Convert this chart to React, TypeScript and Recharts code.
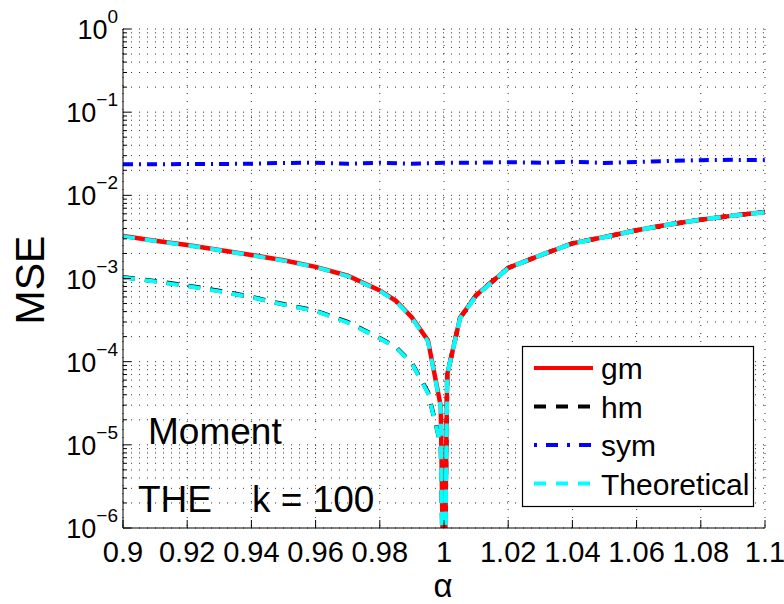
import { LineChart, Line, XAxis, YAxis, CartesianGrid, Legend } from "recharts";

const FONT = "'Liberation Sans', Arial, Helvetica, sans-serif";

// alpha grid shared by the gm / hm / theoretical curves
const alpha = [
  0.9, 0.91, 0.92, 0.93, 0.94, 0.95, 0.96, 0.97, 0.98, 0.985, 0.99, 0.995, 0.999, 1,
  1.001, 1.005, 1.01, 1.02, 1.03, 1.04, 1.05, 1.06, 1.07, 1.08, 1.09, 1.1,
];
const gmMse = [
  3.25e-3, 2.85e-3, 2.53e-3, 2.2e-3, 1.92e-3, 1.66e-3, 1.38e-3, 1.08e-3, 7.2e-4, 5.4e-4, 3.4e-4, 1.8e-4, 2.9e-5, 5e-8,
  7e-5, 3.35e-4, 6.3e-4, 1.34e-3, 1.9e-3, 2.65e-3, 3.15e-3, 3.8e-3, 4.45e-3, 5.1e-3, 5.7e-3, 6.3e-3,
];
const hmMse = [
  1.04e-3, 9.3e-4, 8.2e-4, 7.1e-4, 6.0e-4, 4.9e-4, 4.1e-4, 3.0e-4, 1.92e-4, 1.5e-4, 9.6e-5, 4.3e-5, 1.0e-5, 5e-8,
  7e-5, 3.35e-4, 6.3e-4, 1.34e-3, 1.9e-3, 2.65e-3, 3.15e-3, 3.8e-3, 4.45e-3, 5.1e-3, 5.7e-3, 6.3e-3,
];
const theoryGmMse = [
  3.2e-3, 2.83e-3, 2.5e-3, 2.19e-3, 1.9e-3, 1.64e-3, 1.37e-3, 1.07e-3, 7.1e-4, 5.3e-4, 3.35e-4, 1.75e-4, 2.8e-5, 1e-8,
  7e-5, 3.3e-4, 6.2e-4, 1.33e-3, 1.9e-3, 2.64e-3, 3.14e-3, 3.8e-3, 4.45e-3, 5.1e-3, 5.7e-3, 6.25e-3,
];
const theoryHmMse = [
  1.03e-3, 9.2e-4, 8.1e-4, 7.0e-4, 5.95e-4, 4.85e-4, 4.05e-4, 2.95e-4, 1.9e-4, 1.48e-4, 9.5e-5, 4.2e-5, 1.0e-5, 1e-8,
  7e-5, 3.3e-4, 6.2e-4, 1.33e-3, 1.9e-3, 2.64e-3, 3.14e-3, 3.8e-3, 4.45e-3, 5.1e-3, 5.7e-3, 6.25e-3,
];

const symAlpha = [
  0.9, 0.91, 0.92, 0.93, 0.94, 0.95, 0.96, 0.97, 0.98, 0.99, 1,
  1.01, 1.02, 1.03, 1.04, 1.05, 1.06, 1.07, 1.08, 1.09, 1.1,
];
const symMse = [
  0.0236, 0.0236, 0.0238, 0.0238, 0.024, 0.0245, 0.0247, 0.024, 0.0247, 0.024, 0.0247,
  0.0247, 0.025, 0.0247, 0.0254, 0.0245, 0.0252, 0.0259, 0.0265, 0.0267, 0.0265,
];

const xTicks = [0.9, 0.92, 0.94, 0.96, 0.98, 1, 1.02, 1.04, 1.06, 1.08, 1.1];
const yDecades = [-6, -5, -4, -3, -2, -1, 0];

const legendNames = ["gm", "hm", "sym", "Theoretical"];
const legendColors = ["#ff0000", "#000000", "#0000ff", "#00ffff"];
const legendDashes = [undefined, "12 10", "3 9 12 9", "12 10"];

const yTicks: number[] = [];
yDecades.forEach((e) => {
  const top = e === 0 ? 1 : 9;
  for (let m = 1; m <= top; m++) yTicks.push(m * Math.pow(10, e));
});

const toPoints = (xs: number[], ys: number[]) => xs.map((a, i) => ({ alpha: a, mse: ys[i] }));

const isDecade = (v: number) => {
  const l = Math.log10(v);
  return Math.abs(l - Math.round(l)) < 1e-6;
};

function LeftTick({ x, y, payload }: any) {
  const major = isDecade(payload.value);
  const exp = Math.round(Math.log10(payload.value));
  const ax = x + 5;
  return (
    <g>
      <line x1={ax} x2={ax + (major ? 8 : 4)} y1={y} y2={y} stroke="#000" />
      {major && (
        <text x={x} y={y + 10} textAnchor="end" fontFamily={FONT} fill="#000">
          <tspan fontSize={27}>10</tspan>
          <tspan fontSize={19} dy={-16}>{exp === 0 ? "0" : `\u2212${-exp}`}</tspan>
        </text>
      )}
    </g>
  );
}

function RightTick({ x, y, payload }: any) {
  const major = isDecade(payload.value);
  return <line x1={x} x2={x - (major ? 8 : 4)} y1={y} y2={y} stroke="#000" />;
}

function BottomTick({ x, y, payload }: any) {
  return (
    <g>
      <line x1={x} x2={x} y1={y} y2={y - 8} stroke="#000" />
      <text x={x} y={y + 34} textAnchor="middle" fontSize={29} fontFamily={FONT} fill="#000">
        {String(payload.value)}
      </text>
    </g>
  );
}

function TopTick({ x, y }: any) {
  return <line x1={x} x2={x} y1={y} y2={y + 8} stroke="#000" />;
}

function LegendBox() {
  return (
    <svg width={233} height={162} style={{ display: "block", overflow: "visible" }}>
      <rect x={0.5} y={0.5} width={231} height={160} fill="#fff" stroke="#000" strokeWidth={1.2} />
      {legendNames.map((name, i) => {
        const cy = 22 + i * 38.5;
        return (
          <g key={name}>
            <line x1={12} x2={71} y1={cy} y2={cy} stroke={legendColors[i]} strokeWidth={4} strokeDasharray={legendDashes[i]} />
            <text x={79} y={cy + 11} fontSize={30} fontFamily={FONT} fill="#000">
              {name}
            </text>
          </g>
        );
      })}
    </svg>
  );
}

export default function App() {
  return (
    <div style={{ position: "absolute", left: 0, top: 0, width: 784, height: 604, background: "#fff" }}>
      <LineChart width={784} height={604} margin={{ top: 29, right: 19, left: 0, bottom: 0 }}>
        <CartesianGrid stroke="#333" strokeDasharray="1 7" />
        <XAxis
          dataKey="alpha"
          type="number"
          domain={[0.9, 1.1]}
          ticks={xTicks}
          allowDataOverflow
          height={76}
          tickSize={0}
          tickMargin={0}
          tickLine={false}
          axisLine={{ stroke: "#000" }}
          tick={<BottomTick />}
          interval={0}
        />
        <XAxis
          xAxisId="top"
          orientation="top"
          type="number"
          domain={[0.9, 1.1]}
          ticks={xTicks}
          allowDataOverflow
          height={0}
          tickSize={0}
          tickMargin={0}
          tickLine={false}
          axisLine={{ stroke: "#000" }}
          tick={<TopTick />}
          interval={0}
        />
        <YAxis
          dataKey="mse"
          scale="log"
          domain={[1e-6, 1]}
          ticks={yTicks}
          allowDataOverflow
          width={123}
          tickSize={0}
          tickMargin={5}
          tickLine={false}
          axisLine={{ stroke: "#000" }}
          tick={<LeftTick />}
          interval={0}
        />
        <YAxis
          yAxisId="right"
          orientation="right"
          scale="log"
          domain={[1e-6, 1]}
          ticks={yTicks}
          allowDataOverflow
          width={0}
          tickSize={0}
          tickMargin={0}
          tickLine={false}
          axisLine={{ stroke: "#000" }}
          tick={<RightTick />}
          interval={0}
        />
        {/* hm goes under gm so the solid red hides it where the two coincide */}
        <Line data={toPoints(alpha, hmMse)} dataKey="mse" name="hm" stroke="#000000" strokeWidth={4.4} strokeDasharray="12 10" dot={false} isAnimationActive={false} />
        <Line data={toPoints(alpha, gmMse)} dataKey="mse" name="gm" stroke="#ff0000" strokeWidth={4.5} dot={false} isAnimationActive={false} />
        <Line data={toPoints(symAlpha, symMse)} dataKey="mse" name="sym" stroke="#0000ff" strokeWidth={4} strokeDasharray="10 6 2 6" dot={false} isAnimationActive={false} />
        <Line data={toPoints(alpha, theoryGmMse)} dataKey="mse" name="Theoretical" stroke="#00ffff" strokeWidth={4} strokeDasharray="12 10" dot={false} isAnimationActive={false} />
        <Line data={toPoints(alpha, theoryHmMse)} dataKey="mse" name="Theoretical (hm)" legendType="none" stroke="#00ffff" strokeWidth={4} strokeDasharray="12 10" dot={false} isAnimationActive={false} />
        <Legend
          layout="vertical"
          align="center"
          verticalAlign="middle"
          content={<LegendBox />}
          wrapperStyle={{ left: 522, top: 346, width: 233, height: 162 }}
        />
        <text x={148} y={444} fontSize={37} fontFamily={FONT} fill="#000">Moment</text>
        <text x={138} y={512} fontSize={37} fontFamily={FONT} fill="#000">THE</text>
        <text x={252} y={512} fontSize={37} fontFamily={FONT} fill="#000">k = 100</text>
        <text x={44} y={280} fontSize={41} fontFamily={FONT} fill="#000" textAnchor="middle" transform="rotate(-90, 44, 280)">MSE</text>
        <text x={443} y={597} fontSize={33} fontFamily={FONT} fill="#000" textAnchor="middle">α</text>
      </LineChart>
    </div>
  );
}
